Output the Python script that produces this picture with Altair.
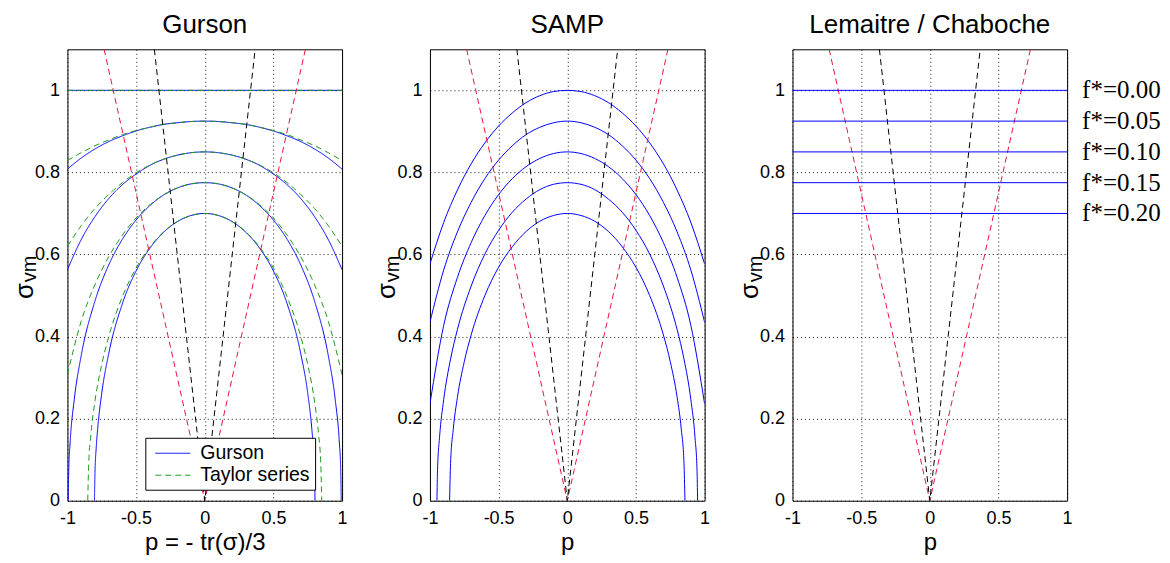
import altair as alt
import pandas as pd

# ---------------- data ----------------
P21 = [-1.0, -0.9, -0.8, -0.7, -0.6, -0.5, -0.4, -0.3, -0.2, -0.1, 0.0,
       0.1, 0.2, 0.3, 0.4, 0.5, 0.6, 0.7, 0.8, 0.9, 1.0]

FLAT_P = [-1.0, 1.0]
FLAT_S = [1.0, 1.0]

GURSON_F05_S = [0.808, 0.835, 0.857, 0.875, 0.889, 0.901, 0.910, 0.917, 0.921, 0.924, 0.925,
                0.924, 0.921, 0.917, 0.910, 0.901, 0.889, 0.875, 0.857, 0.835, 0.808]
GURSON_F10_S = [0.563, 0.636, 0.692, 0.736, 0.770, 0.796, 0.817, 0.832, 0.842, 0.848, 0.850,
                0.848, 0.842, 0.832, 0.817, 0.796, 0.770, 0.736, 0.692, 0.636, 0.563]
GURSON_F15_P = [-0.994, -0.99, -0.98, -0.95, -0.9, -0.8, -0.7, -0.6, -0.5, -0.4, -0.3, -0.2, -0.1, 0.0,
                0.1, 0.2, 0.3, 0.4, 0.5, 0.6, 0.7, 0.8, 0.9, 0.95, 0.98, 0.99, 0.994]
GURSON_F15_S = [0.0, 0.079, 0.143, 0.247, 0.353, 0.486, 0.574, 0.637, 0.684, 0.719, 0.745, 0.762, 0.772, 0.775,
                0.772, 0.762, 0.745, 0.719, 0.684, 0.637, 0.574, 0.486, 0.353, 0.247, 0.143, 0.079, 0.0]
GURSON_F20_P = [-0.803, -0.8, -0.79, -0.78, -0.75, -0.7, -0.6, -0.5, -0.4, -0.3, -0.2, -0.1, 0.0,
                0.1, 0.2, 0.3, 0.4, 0.5, 0.6, 0.7, 0.75, 0.78, 0.79, 0.8, 0.803]
GURSON_F20_S = [0.0, 0.060, 0.131, 0.174, 0.262, 0.357, 0.480, 0.560, 0.615, 0.654, 0.680, 0.695, 0.700,
                0.695, 0.680, 0.654, 0.615, 0.560, 0.480, 0.357, 0.262, 0.174, 0.131, 0.060, 0.0]

TAYLOR_F05_S = [0.829, 0.848, 0.865, 0.879, 0.892, 0.902, 0.910, 0.917, 0.921, 0.924, 0.925,
                0.924, 0.921, 0.917, 0.910, 0.902, 0.892, 0.879, 0.865, 0.848, 0.829]
TAYLOR_F10_S = [0.620, 0.670, 0.712, 0.746, 0.775, 0.799, 0.818, 0.832, 0.842, 0.848, 0.850,
                0.848, 0.842, 0.832, 0.818, 0.799, 0.775, 0.746, 0.712, 0.670, 0.620]
TAYLOR_F15_S = [0.307, 0.437, 0.526, 0.594, 0.647, 0.689, 0.721, 0.745, 0.762, 0.772, 0.775,
                0.772, 0.762, 0.745, 0.721, 0.689, 0.647, 0.594, 0.526, 0.437, 0.307]
TAYLOR_F20_P = [-0.852, -0.845, -0.83, -0.8, -0.75, -0.7, -0.6, -0.5, -0.4, -0.3, -0.2, -0.1, 0.0,
                0.1, 0.2, 0.3, 0.4, 0.5, 0.6, 0.7, 0.75, 0.8, 0.83, 0.845, 0.852]
TAYLOR_F20_S = [0.0, 0.090, 0.158, 0.241, 0.332, 0.399, 0.497, 0.567, 0.618, 0.655, 0.680, 0.695, 0.700,
                0.695, 0.680, 0.655, 0.618, 0.567, 0.497, 0.399, 0.332, 0.241, 0.158, 0.090, 0.0]

SAMP_F00_S = [0.577, 0.678, 0.757, 0.821, 0.872, 0.913, 0.945, 0.970, 0.987, 0.997, 1.000,
              0.997, 0.987, 0.970, 0.945, 0.913, 0.872, 0.821, 0.757, 0.678, 0.577]
SAMP_F05_S = [0.435, 0.562, 0.655, 0.727, 0.785, 0.830, 0.865, 0.892, 0.910, 0.921, 0.925,
              0.921, 0.910, 0.892, 0.865, 0.830, 0.785, 0.727, 0.655, 0.562, 0.435]
SAMP_F10_S = [0.236, 0.427, 0.544, 0.629, 0.695, 0.746, 0.785, 0.814, 0.834, 0.846, 0.850,
              0.846, 0.834, 0.814, 0.785, 0.746, 0.695, 0.629, 0.544, 0.427, 0.236]
SAMP_F15_P = [-0.949, -0.945, -0.93, -0.9, -0.85, -0.8, -0.7, -0.6, -0.5, -0.4, -0.3, -0.2, -0.1, 0.0,
              0.1, 0.2, 0.3, 0.4, 0.5, 0.6, 0.7, 0.8, 0.85, 0.9, 0.93, 0.945, 0.949]
SAMP_F15_S = [0.0, 0.073, 0.155, 0.246, 0.345, 0.417, 0.523, 0.601, 0.659, 0.703, 0.735, 0.758, 0.771, 0.775,
              0.771, 0.758, 0.735, 0.703, 0.659, 0.601, 0.523, 0.417, 0.345, 0.246, 0.155, 0.073, 0.0]
SAMP_F20_P = [-0.857, -0.85, -0.83, -0.8, -0.75, -0.7, -0.6, -0.5, -0.4, -0.3, -0.2, -0.1, 0.0,
              0.1, 0.2, 0.3, 0.4, 0.5, 0.6, 0.7, 0.75, 0.8, 0.83, 0.85, 0.857]
SAMP_F20_S = [0.0, 0.091, 0.175, 0.252, 0.339, 0.404, 0.500, 0.569, 0.619, 0.656, 0.681, 0.695, 0.700,
              0.695, 0.681, 0.656, 0.619, 0.569, 0.500, 0.404, 0.339, 0.252, 0.175, 0.091, 0.0]

LEMAITRE_LEVELS = [1.0, 0.925, 0.85, 0.775, 0.7]
F_LABELS = ["f*=0.00", "f*=0.05", "f*=0.10", "f*=0.15", "f*=0.20"]

RED_P = [-0.733, 0.0, 0.733]
RED_S = [1.1, 0.0, 1.1]
BLACK_P = [-0.367, 0.0, 0.367]
BLACK_S = [1.1, 0.0, 1.1]

LEGEND_NAMES = ["Gurson", "Taylor series"]
TITLES = ["Gurson", "SAMP", "Lemaitre / Chaboche"]
X_TITLES = ["p = - tr(\u03c3)/3", "p", "p"]
X_TICKS = [-1, -0.5, 0, 0.5, 1]
Y_TICKS = [0, 0.2, 0.4, 0.6, 0.8, 1]

# ---------------- styling ----------------
FONT = "Liberation Sans"
BLUE = "#0000ff"
GREEN = "#1f9a1f"
RED = "#e8163c"
BLACK = "#000000"
DASH = [6, 4]
W, H = 275, 452


def rows(model, name, ps, ss):
    return [{"model": model, "curve": name, "p": p, "s": s} for p, s in zip(ps, ss)]


XS = alt.Scale(domain=[-1, 1], nice=False, zero=False)
YS = alt.Scale(domain=[0, 1.1], nice=False)


def xenc(title):
    return alt.X("p:Q", scale=XS, axis=alt.Axis(
        values=X_TICKS, format="~g", labelExpr="replace(datum.label, '\u2212', '-')",
        labelFlush=False, title=title, labelPadding=9, titlePadding=3, titleFontSize=24))


YENC = alt.Y("s:Q", scale=YS, axis=alt.Axis(values=Y_TICKS, format="~g", title=None, labelPadding=8))


def guide_lines(xtitle):
    red = alt.Chart(pd.DataFrame({"p": RED_P, "s": RED_S})).mark_line(
        color=RED, strokeWidth=1, strokeDash=DASH, clip=True).encode(x=xenc(xtitle), y=YENC)
    black = alt.Chart(pd.DataFrame({"p": BLACK_P, "s": BLACK_S})).mark_line(
        color=BLACK, strokeWidth=1, strokeDash=DASH, clip=True).encode(x=xenc(xtitle), y=YENC)
    return [red, black]


def ylabel():
    base = alt.Chart(alt.Data(values=[{"a": 1}]))
    sig = base.mark_text(text="\u03c3", angle=270, font=FONT, fontSize=26, align="center",
                         baseline="middle", color="black").encode(x=alt.value(-42.5), y=alt.value(242))
    vm = base.mark_text(text="vm", angle=270, font=FONT, fontSize=20, align="center",
                        baseline="middle", color="black").encode(x=alt.value(-37), y=alt.value(220))
    return [sig, vm]


# ---- Gurson panel
gdata = pd.DataFrame(
    rows("Gurson", "g00", FLAT_P, FLAT_S)
    + rows("Gurson", "g05", P21, GURSON_F05_S)
    + rows("Gurson", "g10", P21, GURSON_F10_S)
    + rows("Gurson", "g15", GURSON_F15_P, GURSON_F15_S)
    + rows("Gurson", "g20", GURSON_F20_P, GURSON_F20_S)
    + rows("Taylor series", "t00", FLAT_P, FLAT_S)
    + rows("Taylor series", "t05", P21, TAYLOR_F05_S)
    + rows("Taylor series", "t10", P21, TAYLOR_F10_S)
    + rows("Taylor series", "t15", P21, TAYLOR_F15_S)
    + rows("Taylor series", "t20", TAYLOR_F20_P, TAYLOR_F20_S)
)

leg = alt.Legend(title=None, orient="none", legendX=78, legendY=389,
                 fillColor="white", strokeColor="black",
                 padding=5, symbolType="M-1.75,0H1.75", symbolSize=400, symbolStrokeWidth=1,
                 symbolOffset=12, labelFont=FONT, labelFontSize=19.5, labelColor="black",
                 labelOffset=17, rowPadding=2, cornerRadius=0)

gcurves = alt.Chart(gdata).mark_line(strokeWidth=1, interpolate="monotone", clip=True).encode(
    x=xenc(X_TITLES[0]), y=YENC,
    color=alt.Color("model:N", scale=alt.Scale(domain=LEGEND_NAMES, range=[BLUE, GREEN]), legend=leg),
    strokeDash=alt.StrokeDash("model:N", scale=alt.Scale(domain=LEGEND_NAMES, range=[[1, 0], DASH]), legend=leg),
    detail="curve:N",
)

gurson = alt.layer(gcurves, *guide_lines(X_TITLES[0]), *ylabel()).properties(
    width=W, height=H, title=TITLES[0])

# ---- SAMP panel
sdata = pd.DataFrame(
    rows("SAMP", "s00", P21, SAMP_F00_S)
    + rows("SAMP", "s05", P21, SAMP_F05_S)
    + rows("SAMP", "s10", P21, SAMP_F10_S)
    + rows("SAMP", "s15", SAMP_F15_P, SAMP_F15_S)
    + rows("SAMP", "s20", SAMP_F20_P, SAMP_F20_S)
)
scurves = alt.Chart(sdata).mark_line(color=BLUE, strokeWidth=1, interpolate="monotone", clip=True).encode(
    x=xenc(X_TITLES[1]), y=YENC, detail="curve:N")
samp = alt.layer(scurves, *guide_lines(X_TITLES[1]), *ylabel()).properties(
    width=W, height=H, title=TITLES[1])

# ---- Lemaitre panel
ldata = pd.DataFrame({"s": LEMAITRE_LEVELS, "label": F_LABELS})
lrules = alt.Chart(ldata).mark_rule(stroke=BLUE, color=BLUE, strokeWidth=1).encode(y=YENC)
llabels = alt.Chart(ldata).mark_text(align="left", baseline="middle", font="Liberation Serif",
                                     fontSize=25, color="black").encode(
    x=alt.value(W + 15), y=alt.Y("s:Q", scale=YS), text="label:N")
lem = alt.layer(*guide_lines(X_TITLES[2]), lrules, llabels, *ylabel()).properties(
    width=W, height=H, title=TITLES[2])

chart = alt.hconcat(gurson, samp, lem, spacing=88, bounds="flush").resolve_scale(
    color="independent", strokeDash="independent"
).properties(
    padding={"left": 3.5, "top": 3, "right": 0, "bottom": 0}
).configure_view(
    stroke="black", strokeWidth=1
).configure_axis(
    labelFont=FONT, labelFontSize=18, labelColor="black",
    titleFont=FONT, titleFontSize=26, titleFontWeight="normal", titleColor="black",
    domain=False, ticks=False, tickSize=0,
    grid=True, gridColor="black", gridDash=[1, 3], gridOpacity=0.9, gridWidth=1,
).configure_title(
    font=FONT, fontSize=26, fontWeight="normal", color="black", offset=11, baseline="alphabetic"
)

chart.save("out.html", embed_options={"renderer": "svg", "actions": False})
